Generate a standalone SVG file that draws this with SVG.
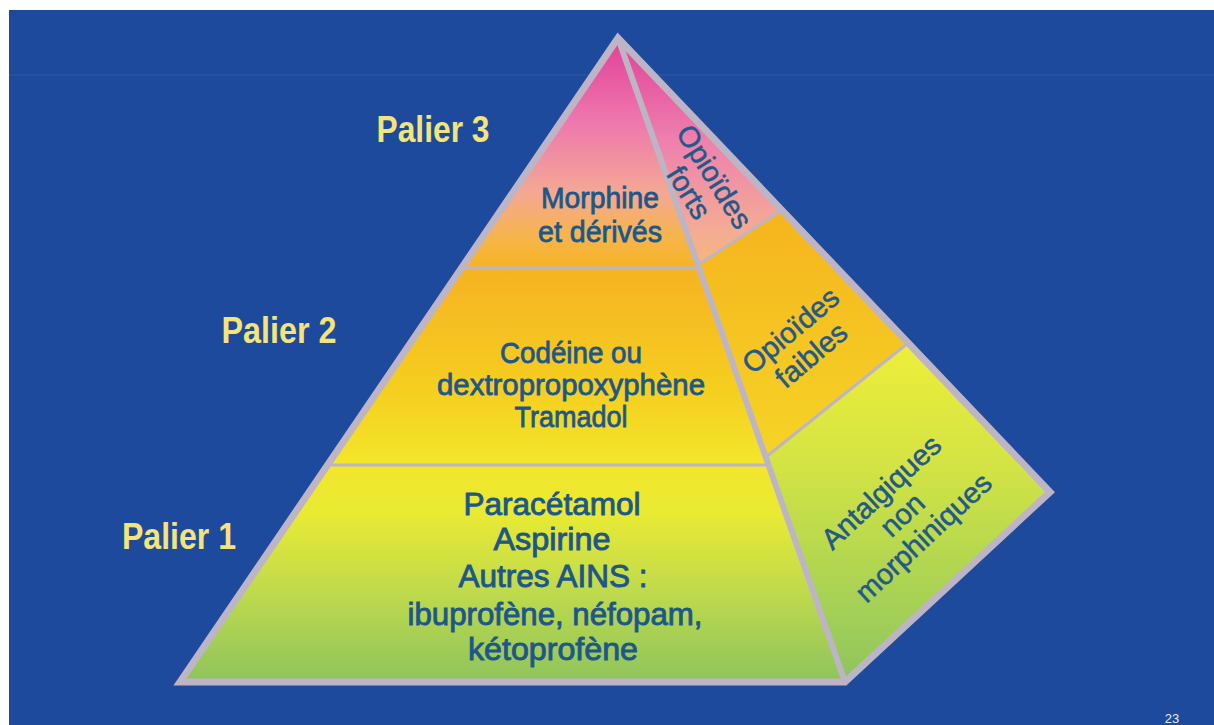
<svg xmlns="http://www.w3.org/2000/svg" width="1214" height="725" viewBox="0 0 1214 725">
  <defs>
    <linearGradient id="gFront" gradientUnits="userSpaceOnUse" x1="0" y1="38" x2="0" y2="682">
      <stop offset="0" stop-color="#e23f98"/>
      <stop offset="0.13" stop-color="#ee78ad"/>
      <stop offset="0.24" stop-color="#f4a894"/>
      <stop offset="0.31" stop-color="#f6b54a"/>
      <stop offset="0.36" stop-color="#f6b322"/>
      <stop offset="0.55" stop-color="#f5cf20"/>
      <stop offset="0.66" stop-color="#f3e62a"/>
      <stop offset="0.74" stop-color="#e8ea34"/>
      <stop offset="0.86" stop-color="#bfda4c"/>
      <stop offset="1" stop-color="#8ec45c"/>
    </linearGradient>
    <linearGradient id="gSideTop" gradientUnits="userSpaceOnUse" x1="0" y1="38" x2="0" y2="265">
      <stop offset="0" stop-color="#e23f98"/>
      <stop offset="0.45" stop-color="#ee80ae"/>
      <stop offset="0.85" stop-color="#f4ac94"/>
      <stop offset="1" stop-color="#f6b67a"/>
    </linearGradient>
    <linearGradient id="gSideMid" gradientUnits="userSpaceOnUse" x1="0" y1="210" x2="0" y2="457">
      <stop offset="0" stop-color="#f5b41e"/>
      <stop offset="1" stop-color="#f5d426"/>
    </linearGradient>
    <linearGradient id="gSideBot" gradientUnits="userSpaceOnUse" x1="0" y1="343" x2="0" y2="682">
      <stop offset="0" stop-color="#eeee38"/>
      <stop offset="0.35" stop-color="#d4e444"/>
      <stop offset="0.75" stop-color="#a8d254"/>
      <stop offset="1" stop-color="#8ec45e"/>
    </linearGradient>
  </defs>
  <style>
    .edge { fill: none; stroke: #bdb5c6; stroke-linejoin: miter; stroke-linecap: round; }
    .palier { font-family: "Liberation Sans", Arial, sans-serif; font-weight: bold; font-size: 36px; fill: #f4e47a; text-anchor: middle; }
    .lbl { font-family: "Liberation Sans", Arial, sans-serif; font-size: 30px; fill: #1d578a; stroke: #1d578a; stroke-width: 0.8; text-anchor: middle; }
    .lbl1 { font-family: "Liberation Sans", Arial, sans-serif; font-size: 32px; fill: #1d578a; stroke: #1d578a; stroke-width: 0.9; text-anchor: middle; }
    .side { font-family: "Liberation Sans", Arial, sans-serif; font-size: 29px; fill: #235889; stroke: #235889; stroke-width: 0.5; text-anchor: middle; }
  </style>

  <!-- background -->
  <rect x="0" y="0" width="1214" height="725" fill="#ffffff"/>
  <rect x="9" y="10" width="1205" height="715" fill="#1d4a9d"/>
  <line x1="9" y1="75" x2="1214" y2="75" stroke="#3a63aa" stroke-width="2" opacity="0.35"/>

  <!-- pyramid faces -->
  <g id="front-face">
    <polygon points="618,38 180,682 845,682" fill="url(#gFront)"/>
  </g>
  <g id="side-forts">
    <polygon points="618,38 782,210 698,265" fill="url(#gSideTop)"/>
  </g>
  <g id="side-faibles">
    <polygon points="698,265 782,210 908,343 766,457" fill="url(#gSideMid)"/>
  </g>
  <g id="side-antalgiques">
    <polygon points="766,457 908,343 1050,492 845,682" fill="url(#gSideBot)"/>
  </g>

  <!-- dividing lines -->
  <g id="connectors" class="edge">
    <line x1="461" y1="268" x2="699" y2="268" stroke-width="3"/>
    <line x1="327" y1="465" x2="769" y2="465" stroke-width="3"/>
    <line x1="698" y1="265" x2="782" y2="210" stroke-width="3"/>
    <line x1="766" y1="457" x2="908" y2="343" stroke-width="3"/>
    <line x1="618" y1="38" x2="845" y2="682" stroke-width="6"/>
    <polygon points="618,38 180,682 845,682 1050,492" stroke-width="7"/>
  </g>

  <!-- tier labels -->
  <g id="palier3">
    <text class="palier" x="433" y="142" textLength="113" lengthAdjust="spacingAndGlyphs">Palier 3</text>
    <text class="lbl" x="600" y="208" textLength="118" lengthAdjust="spacingAndGlyphs">Morphine</text>
    <text class="lbl" x="600" y="242" textLength="124" lengthAdjust="spacingAndGlyphs">et dérivés</text>
  </g>
  <g id="palier2">
    <text class="palier" x="279" y="343" textLength="115" lengthAdjust="spacingAndGlyphs">Palier 2</text>
    <text class="lbl" x="571" y="363" textLength="142" lengthAdjust="spacingAndGlyphs">Codéine ou</text>
    <text class="lbl" x="571" y="395" textLength="268" lengthAdjust="spacingAndGlyphs">dextropropoxyphène</text>
    <text class="lbl" x="571" y="427" textLength="113" lengthAdjust="spacingAndGlyphs">Tramadol</text>
  </g>
  <g id="palier1">
    <text class="palier" x="179" y="549" textLength="114" lengthAdjust="spacingAndGlyphs">Palier 1</text>
    <text class="lbl1" x="552" y="515" textLength="177" lengthAdjust="spacingAndGlyphs">Paracétamol</text>
    <text class="lbl1" x="552" y="550" textLength="117" lengthAdjust="spacingAndGlyphs">Aspirine</text>
    <text class="lbl1" x="553" y="587" textLength="189" lengthAdjust="spacingAndGlyphs">Autres AINS :</text>
    <text class="lbl1" x="555" y="625" textLength="295" lengthAdjust="spacingAndGlyphs">ibuprofène, néfopam,</text>
    <text class="lbl1" x="553" y="660" textLength="170" lengthAdjust="spacingAndGlyphs">kétoprofène</text>
  </g>

  <!-- side labels -->
  <g id="label-forts" transform="translate(706,182) rotate(58)">
    <text class="side" x="0" y="0">Opioïdes</text>
    <text class="side" x="0" y="30">forts</text>
  </g>
  <g id="label-faibles" transform="translate(797,338) rotate(-40)">
    <text class="side" x="0" y="0">Opioïdes</text>
    <text class="side" x="0" y="32">faibles</text>
  </g>
  <g id="label-antalgiques" transform="translate(909,522) rotate(-43)">
    <text class="side" x="0" y="-31">Antalgiques</text>
    <text class="side" x="0" y="0">non</text>
    <text class="side" x="0" y="31">morphiniques</text>
  </g>

  <!-- page number -->
  <text x="1172" y="723" font-family="Liberation Sans, Arial, sans-serif" font-size="13" fill="#e8ecf4" text-anchor="middle">23</text>
</svg>
